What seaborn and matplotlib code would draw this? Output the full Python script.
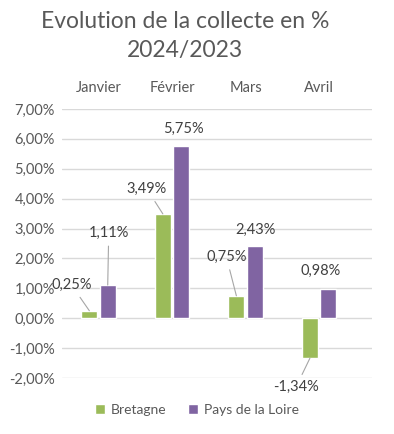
import numpy as np
import pandas as pd
import matplotlib
matplotlib.use('Agg')
import matplotlib.pyplot as plt
import seaborn as sns

# données
mois = ['Janvier', 'Février', 'Mars', 'Avril']
bretagne = [0.25, 3.49, 0.75, -1.34]
pays_loire = [1.11, 5.75, 2.43, 0.98]
regions = ['Bretagne', 'Pays de la Loire']
y_ticks = [-2, -1, 0, 1, 2, 3, 4, 5, 6, 7]

# décalages des étiquettes (pixels) et présence d'un trait de rappel
offsets = {
    'Bretagne': [(-18, 26), (-16, 25), (-10, 39), (-14, -29)],
    'Pays de la Loire': [(1, 52), (2, 17), (1, 16), (-8, 18)],
}
leaders = {
    'Bretagne': [True, True, True, True],
    'Pays de la Loire': [True, False, False, False],
}

df = pd.DataFrame({
    'Mois': mois * 2,
    'Valeur': bretagne + pays_loire,
    'Région': [regions[0]] * 4 + [regions[1]] * 4,
})

sns.set_style("white")
plt.rcParams['font.family'] = ['Lato', 'DejaVu Sans']

fig = plt.figure(figsize=(3.94, 4.34), dpi=100)
ax = fig.add_axes([62 / 394, 1 - 378 / 434, 310 / 394, 269 / 434])

palette = {'Bretagne': '#9BBB59', 'Pays de la Loire': '#8064A2'}
sns.barplot(data=df, x='Mois', y='Valeur', hue='Région', order=mois,
            hue_order=regions, palette=palette, width=0.5, gap=0.13,
            saturation=1, ax=ax, zorder=3)

ax.set_ylim(-2, 7)
ax.set_xlim(-0.497, 3.72)
ax.set_yticks(y_ticks)
ax.set_yticklabels([f"{v:.2f}".replace('.', ',') + '%' for v in y_ticks])
ax.yaxis.grid(True, color='#D9D9D9', lw=1, zorder=0)
ax.set_axisbelow(True)
for s in ax.spines.values():
    s.set_visible(False)
ax.xaxis.tick_top()
ax.tick_params(axis='x', length=0, pad=10, labelsize=10.5, labelcolor='#595959')
ax.tick_params(axis='y', length=0, pad=5, labelsize=10.5, labelcolor='#595959')
ax.set_xlabel('')
ax.set_ylabel('')

# étiquettes de données
for container, reg, vals in zip(ax.containers, regions, [bretagne, pays_loire]):
    for bar, v, off, lead in zip(container, vals, offsets[reg], leaders[reg]):
        x = bar.get_x() + bar.get_width() / 2
        y = bar.get_y() + bar.get_height()
        txt = f"{v:.2f}".replace('.', ',') + '%'
        props = dict(arrowstyle='-', color='#A6A6A6', lw=0.8,
                     shrinkA=2, shrinkB=0) if lead else None
        ax.annotate(txt, xy=(x, y), xytext=off, textcoords='offset pixels',
                    ha='center', va='center', fontsize=10.5, color='#404040',
                    arrowprops=props, annotation_clip=False)

handles, labels = ax.get_legend_handles_labels()
ax.legend_.remove()
fig.legend(handles, labels, loc='center', bbox_to_anchor=(0.5, 1 - 410 / 434),
           ncol=2, frameon=False, fontsize=10, handlelength=0.7,
           handleheight=0.7, handletextpad=0.4, columnspacing=1.6,
           labelcolor='#595959')

fig.text(185 / 394, 1 - 21 / 434, 'Evolution de la collecte en %',
         ha='center', va='center', fontsize=16.5, color='#595959')
fig.text(185 / 394, 1 - 50 / 434, '2024/2023',
         ha='center', va='center', fontsize=16.5, color='#595959')

fig.savefig('out.png', dpi=100)
